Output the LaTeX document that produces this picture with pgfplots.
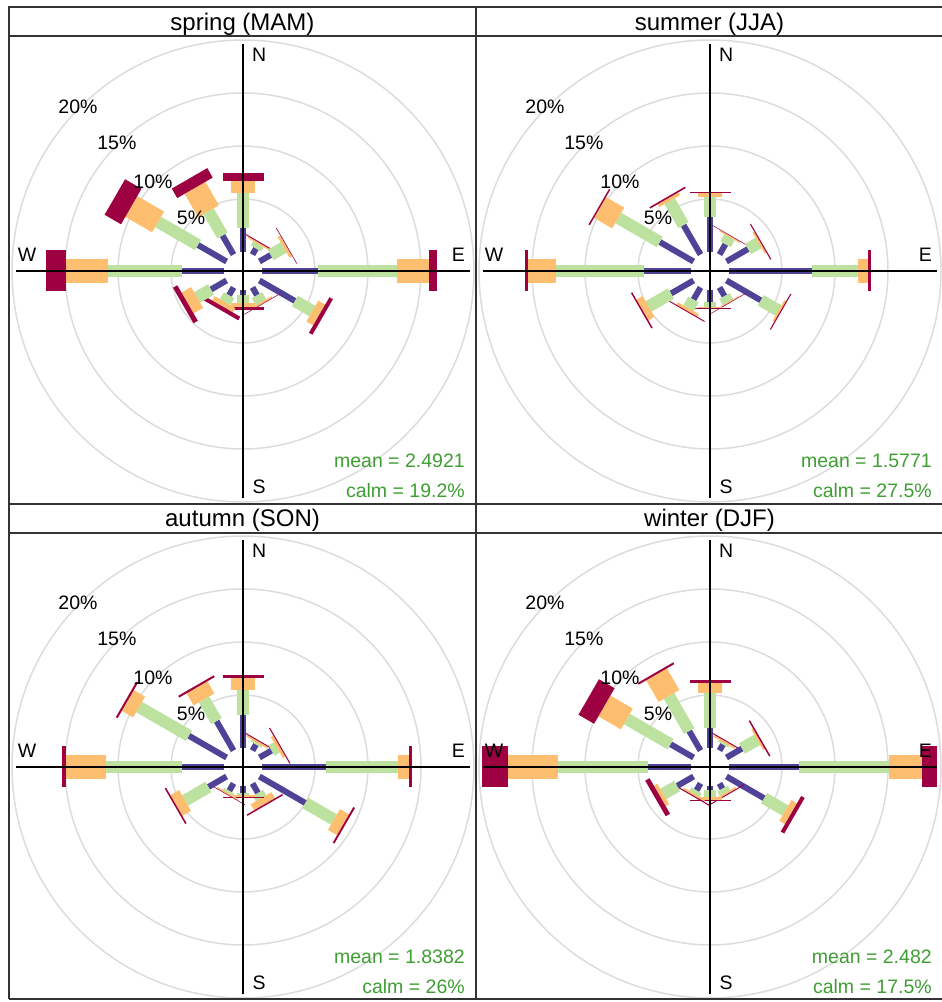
\documentclass[border=0pt]{standalone}
\usepackage{pgfplots}
\pgfplotsset{compat=1.18}
\usepackage{fontspec}
\setmainfont{Liberation Sans}
\definecolor{cPur}{HTML}{4F4398}
\definecolor{cGrn}{HTML}{BDE2A0}
\definecolor{cOrg}{HTML}{FDBF6F}
\definecolor{cRed}{HTML}{9E0142}
\definecolor{cTxt}{HTML}{3F9E33}
\definecolor{cRing}{HTML}{DCDCDC}
\definecolor{cFrame}{HTML}{333333}
\pgfplotsset{
  pd/.style={forget plot, no markers, data cs=polar, line cap=butt},
  b1/.style={pd, draw=cPur, line width=6pt},
  b2/.style={pd, draw=cGrn, line width=12pt},
  b3/.style={pd, draw=cOrg, line width=24pt},
  b4/.style={pd, draw=cRed, line width=41pt},
  rose/.style={x=10.6pt, y=10.6pt, xmin=-22.05, xmax=22.05, ymin=-22.08, ymax=22.08,
    axis lines=none, xtick=\empty, ytick=\empty, clip=false, anchor=origin},
}
% radius in axis units = 1.79 (calm offset) + cumulative percentage
\newcommand\roseback{%
  \draw[cRing, line width=1.5pt] (axis cs:0,0) circle[radius=6.79];
  \draw[cRing, line width=1.5pt] (axis cs:0,0) circle[radius=11.79];
  \draw[cRing, line width=1.5pt] (axis cs:0,0) circle[radius=16.79];
  \draw[cRing, line width=1.5pt] (axis cs:0,0) circle[radius=21.79];
}
\newcommand\rosefront[2]{%
  \draw[black, line width=1.5pt] (axis cs:-21.46,0) -- (axis cs:21.46,0);
  \draw[black, line width=1.5pt] (axis cs:0,-21.46) -- (axis cs:0,21.46);
  \node[font=\fontsize{19.5}{20}\selectfont] at (axis cs:1.53,20.38) {N};
  \node[font=\fontsize{19.5}{20}\selectfont] at (axis cs:1.53,-20.35) {S};
  \node[font=\fontsize{19.5}{20}\selectfont] at (axis cs:20.31,1.51) {E};
  \node[font=\fontsize{19.5}{20}\selectfont] at (axis cs:-20.36,1.51) {W};
  \node[font=\fontsize{19.5}{20}\selectfont] at (axis cs:-4.9,5.0) {5\%};
  \node[font=\fontsize{19.5}{20}\selectfont] at (axis cs:-8.49,8.40) {10\%};
  \node[font=\fontsize{19.5}{20}\selectfont] at (axis cs:-11.9,12.1) {15\%};
  \node[font=\fontsize{19.5}{20}\selectfont] at (axis cs:-15.57,15.47) {20\%};
  \node[font=\fontsize{19.5}{20}\selectfont, text=cTxt, anchor=east] at (axis cs:21.25,-17.9) {mean = #1};
  \node[font=\fontsize{19.5}{20}\selectfont, text=cTxt, anchor=east] at (axis cs:21.25,-20.75) {calm = #2};
}
\begin{document}
\begin{tikzpicture}[x=1pt,y=1pt]
\path[use as bounding box] (0,0) rectangle (942,1002);

% ---------------- spring ----------------
\begin{axis}[rose, at={(243pt,731pt)}]
\roseback
\addplot[b1] coordinates {(60,1.79)(60,2.45)}; \addplot[b2] coordinates {(60,2.45)(60,2.92)}; \addplot[b3] coordinates {(60,2.92)(60,3.07)}; \addplot[b4] coordinates {(60,3.07)(60,3.16)};
\addplot[b1] coordinates {(30,1.79)(30,3.02)}; \addplot[b2] coordinates {(30,3.02)(30,4.43)}; \addplot[b3] coordinates {(30,4.43)(30,4.72)}; \addplot[b4] coordinates {(30,4.72)(30,4.78)};
\addplot[b1] coordinates {(0,1.79)(0,7.08)}; \addplot[b2] coordinates {(0,7.08)(0,14.53)}; \addplot[b3] coordinates {(0,14.53)(0,17.55)}; \addplot[b4] coordinates {(0,17.55)(0,18.30)};
\addplot[b1] coordinates {(-30,1.79)(-30,5.66)}; \addplot[b2] coordinates {(-30,5.66)(-30,7.55)}; \addplot[b3] coordinates {(-30,7.55)(-30,8.30)}; \addplot[b4] coordinates {(-30,8.30)(-30,8.68)};
\addplot[b1] coordinates {(-60,1.79)(-60,2.64)}; \addplot[b2] coordinates {(-60,2.64)(-60,3.40)}; \addplot[b3] coordinates {(-60,3.40)(-60,3.58)}; \addplot[b4] coordinates {(-60,3.58)(-60,3.63)};
\addplot[b1] coordinates {(-90,1.79)(-90,2.26)}; \addplot[b2] coordinates {(-90,2.26)(-90,3.02)}; \addplot[b3] coordinates {(-90,3.02)(-90,3.40)}; \addplot[b4] coordinates {(-90,3.40)(-90,3.68)};
\addplot[b1] coordinates {(-120,1.79)(-120,2.64)}; \addplot[b2] coordinates {(-120,2.64)(-120,3.40)}; \addplot[b3] coordinates {(-120,3.40)(-120,3.87)}; \addplot[b4] coordinates {(-120,3.87)(-120,4.25)};
\addplot[b1] coordinates {(-150,1.79)(-150,3.49)}; \addplot[b2] coordinates {(-150,3.49)(-150,5.00)}; \addplot[b3] coordinates {(-150,5.00)(-150,6.04)}; \addplot[b4] coordinates {(-150,6.04)(-150,6.51)};
\addplot[b1] coordinates {(180,1.79)(180,5.75)}; \addplot[b2] coordinates {(180,5.75)(180,12.74)}; \addplot[b3] coordinates {(180,12.74)(180,16.70)}; \addplot[b4] coordinates {(180,16.70)(180,18.54)};
\addplot[b1] coordinates {(150,1.79)(150,4.91)}; \addplot[b2] coordinates {(150,4.91)(150,9.25)}; \addplot[b3] coordinates {(150,9.25)(150,12.17)}; \addplot[b4] coordinates {(150,12.17)(150,13.96)};
\addplot[b1] coordinates {(120,1.79)(120,3.87)}; \addplot[b2] coordinates {(120,3.87)(120,6.51)}; \addplot[b3] coordinates {(120,6.51)(120,9.06)}; \addplot[b4] coordinates {(120,9.06)(120,10.09)};
\addplot[b1] coordinates {(90,1.79)(90,4.06)}; \addplot[b2] coordinates {(90,4.06)(90,7.36)}; \addplot[b3] coordinates {(90,7.36)(90,8.49)}; \addplot[b4] coordinates {(90,8.49)(90,9.22)};
\rosefront{2.4921}{19.2\%}
\end{axis}

% ---------------- summer ----------------
\begin{axis}[rose, at={(710pt,731pt)}]
\roseback
\addplot[b1] coordinates {(60,1.79)(60,2.92)}; \addplot[b2] coordinates {(60,2.92)(60,3.68)}; \addplot[b3] coordinates {(60,3.68)(60,3.82)}; \addplot[b4] coordinates {(60,3.82)(60,3.87)};
\addplot[b1] coordinates {(30,1.79)(30,4.15)}; \addplot[b2] coordinates {(30,4.15)(30,5.28)}; \addplot[b3] coordinates {(30,5.28)(30,5.47)}; \addplot[b4] coordinates {(30,5.47)(30,5.57)};
\addplot[b1] coordinates {(0,1.79)(0,9.62)}; \addplot[b2] coordinates {(0,9.62)(0,13.96)}; \addplot[b3] coordinates {(0,13.96)(0,14.88)}; \addplot[b4] coordinates {(0,14.88)(0,15.19)};
\addplot[b1] coordinates {(-30,1.79)(-30,5.54)}; \addplot[b2] coordinates {(-30,5.54)(-30,7.45)}; \addplot[b3] coordinates {(-30,7.45)(-30,7.64)}; \addplot[b4] coordinates {(-30,7.64)(-30,7.74)};
\addplot[b1] coordinates {(-60,1.79)(-60,2.74)}; \addplot[b2] coordinates {(-60,2.74)(-60,3.40)}; \addplot[b3] coordinates {(-60,3.40)(-60,3.49)}; \addplot[b4] coordinates {(-60,3.49)(-60,3.54)};
\addplot[b1] coordinates {(-90,1.79)(-90,2.90)}; \addplot[b2] coordinates {(-90,2.90)(-90,3.42)}; \addplot[b3] coordinates {(-90,3.42)(-90,3.52)}; \addplot[b4] coordinates {(-90,3.52)(-90,3.55)};
\addplot[b1] coordinates {(-120,1.79)(-120,3.11)}; \addplot[b2] coordinates {(-120,3.11)(-120,4.06)}; \addplot[b3] coordinates {(-120,4.06)(-120,4.34)}; \addplot[b4] coordinates {(-120,4.34)(-120,4.43)};
\addplot[b1] coordinates {(-150,1.79)(-150,4.25)}; \addplot[b2] coordinates {(-150,4.25)(-150,6.70)}; \addplot[b3] coordinates {(-150,6.70)(-150,7.36)}; \addplot[b4] coordinates {(-150,7.36)(-150,7.50)};
\addplot[b1] coordinates {(180,1.79)(180,6.20)}; \addplot[b2] coordinates {(180,6.20)(180,14.53)}; \addplot[b3] coordinates {(180,14.53)(180,17.14)}; \addplot[b4] coordinates {(180,17.14)(180,17.45)};
\addplot[b1] coordinates {(150,1.79)(150,5.47)}; \addplot[b2] coordinates {(150,5.47)(150,10.00)}; \addplot[b3] coordinates {(150,10.00)(150,11.98)}; \addplot[b4] coordinates {(150,11.98)(150,12.12)};
\addplot[b1] coordinates {(120,1.79)(120,5.00)}; \addplot[b2] coordinates {(120,5.00)(120,7.61)}; \addplot[b3] coordinates {(120,7.61)(120,7.92)}; \addplot[b4] coordinates {(120,7.92)(120,8.07)};
\addplot[b1] coordinates {(90,1.79)(90,5.09)}; \addplot[b2] coordinates {(90,5.09)(90,6.95)}; \addplot[b3] coordinates {(90,6.95)(90,7.39)}; \addplot[b4] coordinates {(90,7.39)(90,7.48)};
\rosefront{1.5771}{27.5\%}
\end{axis}

% ---------------- autumn ----------------
\begin{axis}[rose, at={(243pt,235pt)}]
\roseback
\addplot[b1] coordinates {(60,1.79)(60,2.45)}; \addplot[b2] coordinates {(60,2.45)(60,2.64)}; \addplot[b3] coordinates {(60,2.64)(60,2.83)}; \addplot[b4] coordinates {(60,2.83)(60,2.92)};
\addplot[b1] coordinates {(30,1.79)(30,3.11)}; \addplot[b2] coordinates {(30,3.11)(30,3.68)}; \addplot[b3] coordinates {(30,3.68)(30,3.96)}; \addplot[b4] coordinates {(30,3.96)(30,4.06)};
\addplot[b1] coordinates {(0,1.79)(0,7.83)}; \addplot[b2] coordinates {(0,7.83)(0,14.62)}; \addplot[b3] coordinates {(0,14.62)(0,15.66)}; \addplot[b4] coordinates {(0,15.66)(0,15.99)};
\addplot[b1] coordinates {(-30,1.79)(-30,6.79)}; \addplot[b2] coordinates {(-30,6.79)(-30,9.91)}; \addplot[b3] coordinates {(-30,9.91)(-30,10.90)}; \addplot[b4] coordinates {(-30,10.90)(-30,11.08)};
\addplot[b1] coordinates {(-60,1.79)(-60,2.83)}; \addplot[b2] coordinates {(-60,2.83)(-60,3.40)}; \addplot[b3] coordinates {(-60,3.40)(-60,4.06)}; \addplot[b4] coordinates {(-60,4.06)(-60,4.20)};
\addplot[b1] coordinates {(-90,1.79)(-90,2.48)}; \addplot[b2] coordinates {(-90,2.48)(-90,2.64)}; \addplot[b3] coordinates {(-90,2.64)(-90,2.80)}; \addplot[b4] coordinates {(-90,2.80)(-90,2.86)};
\addplot[b1] coordinates {(-120,1.79)(-120,2.59)}; \addplot[b2] coordinates {(-120,2.59)(-120,2.83)}; \addplot[b3] coordinates {(-120,2.83)(-120,2.97)}; \addplot[b4] coordinates {(-120,2.97)(-120,3.02)};
\addplot[b1] coordinates {(-150,1.79)(-150,3.77)}; \addplot[b2] coordinates {(-150,3.77)(-150,6.32)}; \addplot[b3] coordinates {(-150,6.32)(-150,7.26)}; \addplot[b4] coordinates {(-150,7.26)(-150,7.41)};
\addplot[b1] coordinates {(180,1.79)(180,5.78)}; \addplot[b2] coordinates {(180,5.78)(180,12.92)}; \addplot[b3] coordinates {(180,12.92)(180,16.70)}; \addplot[b4] coordinates {(180,16.70)(180,17.12)};
\addplot[b1] coordinates {(150,1.79)(150,5.90)}; \addplot[b2] coordinates {(150,5.90)(150,11.32)}; \addplot[b3] coordinates {(150,11.32)(150,12.55)}; \addplot[b4] coordinates {(150,12.55)(150,12.74)};
\addplot[b1] coordinates {(120,1.79)(120,5.00)}; \addplot[b2] coordinates {(120,5.00)(120,7.36)}; \addplot[b3] coordinates {(120,7.36)(120,8.68)}; \addplot[b4] coordinates {(120,8.68)(120,8.87)};
\addplot[b1] coordinates {(90,1.79)(90,4.91)}; \addplot[b2] coordinates {(90,4.91)(90,7.26)}; \addplot[b3] coordinates {(90,7.26)(90,8.37)}; \addplot[b4] coordinates {(90,8.37)(90,8.68)};
\rosefront{1.8382}{26\%}
\end{axis}

% ---------------- winter ----------------
\begin{axis}[rose, at={(710pt,235pt)}]
\roseback
\addplot[b1] coordinates {(60,1.79)(60,2.45)}; \addplot[b2] coordinates {(60,2.45)(60,2.64)}; \addplot[b3] coordinates {(60,2.64)(60,2.83)}; \addplot[b4] coordinates {(60,2.83)(60,2.92)};
\addplot[b1] coordinates {(30,1.79)(30,3.49)}; \addplot[b2] coordinates {(30,3.49)(30,5.14)}; \addplot[b3] coordinates {(30,5.14)(30,5.33)}; \addplot[b4] coordinates {(30,5.33)(30,5.47)};
\addplot[b1] coordinates {(0,1.79)(0,8.40)}; \addplot[b2] coordinates {(0,8.40)(0,16.89)}; \addplot[b3] coordinates {(0,16.89)(0,19.97)}; \addplot[b4] coordinates {(0,19.97)(0,21.39)};
\addplot[b1] coordinates {(-30,1.79)(-30,5.90)}; \addplot[b2] coordinates {(-30,5.90)(-30,8.21)}; \addplot[b3] coordinates {(-30,8.21)(-30,8.82)}; \addplot[b4] coordinates {(-30,8.82)(-30,9.20)};
\addplot[b1] coordinates {(-60,1.79)(-60,2.36)}; \addplot[b2] coordinates {(-60,2.36)(-60,2.83)}; \addplot[b3] coordinates {(-60,2.83)(-60,3.02)}; \addplot[b4] coordinates {(-60,3.02)(-60,3.11)};
\addplot[b1] coordinates {(-90,1.79)(-90,2.17)}; \addplot[b2] coordinates {(-90,2.17)(-90,2.80)}; \addplot[b3] coordinates {(-90,2.80)(-90,3.08)}; \addplot[b4] coordinates {(-90,3.08)(-90,3.11)};
\addplot[b1] coordinates {(-120,1.79)(-120,2.55)}; \addplot[b2] coordinates {(-120,2.55)(-120,2.92)}; \addplot[b3] coordinates {(-120,2.92)(-120,3.11)}; \addplot[b4] coordinates {(-120,3.11)(-120,3.21)};
\addplot[b1] coordinates {(-150,1.79)(-150,3.58)}; \addplot[b2] coordinates {(-150,3.58)(-150,5.09)}; \addplot[b3] coordinates {(-150,5.09)(-150,5.47)}; \addplot[b4] coordinates {(-150,5.47)(-150,5.94)};
\addplot[b1] coordinates {(180,1.79)(180,5.88)}; \addplot[b2] coordinates {(180,5.88)(180,14.37)}; \addplot[b3] coordinates {(180,14.37)(180,19.03)}; \addplot[b4] coordinates {(180,19.03)(180,21.48)};
\addplot[b1] coordinates {(150,1.79)(150,4.30)}; \addplot[b2] coordinates {(150,4.30)(150,9.06)}; \addplot[b3] coordinates {(150,9.06)(150,11.51)}; \addplot[b4] coordinates {(150,11.51)(150,13.21)};
\addplot[b1] coordinates {(120,1.79)(120,3.92)}; \addplot[b2] coordinates {(120,3.92)(120,7.74)}; \addplot[b3] coordinates {(120,7.74)(120,10.09)}; \addplot[b4] coordinates {(120,10.09)(120,10.28)};
\addplot[b1] coordinates {(90,1.79)(90,3.65)}; \addplot[b2] coordinates {(90,3.65)(90,7.01)}; \addplot[b3] coordinates {(90,7.01)(90,7.95)}; \addplot[b4] coordinates {(90,7.95)(90,8.21)};
\rosefront{2.482}{17.5\%}
\end{axis}

% ---------------- strip frames and titles ----------------
\draw[cFrame, line width=1.6pt] (9,3) -- (9,995) -- (945,995);
\draw[cFrame, line width=1.6pt] (9,3) -- (945,3);
\draw[cFrame, line width=1.6pt] (9,966) -- (945,966);
\draw[cFrame, line width=1.6pt] (9,498) -- (945,498);
\draw[cFrame, line width=1.6pt] (9,469) -- (945,469);
\draw[cFrame, line width=1.6pt] (476,3) -- (476,995);
\node[anchor=base, font=\fontsize{24}{24}\selectfont] at (242.5,971.5) {spring (MAM)};
\node[anchor=base, font=\fontsize{24}{24}\selectfont] at (709.5,971.5) {summer (JJA)};
\node[anchor=base, font=\fontsize{24}{24}\selectfont] at (242.5,475.5) {autumn (SON)};
\node[anchor=base, font=\fontsize{24}{24}\selectfont] at (709.5,475.5) {winter (DJF)};
\end{tikzpicture}
\end{document}
